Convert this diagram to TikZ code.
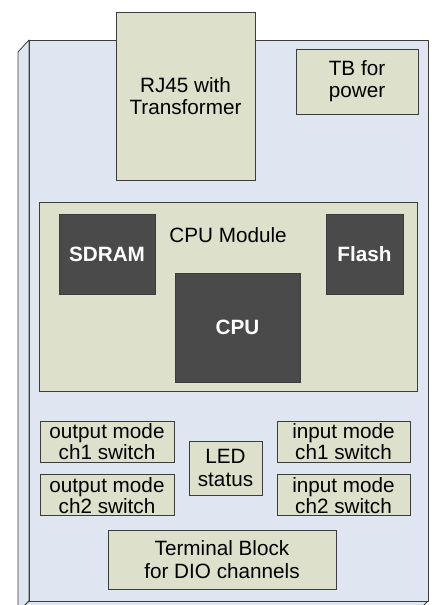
\documentclass[tikz,border=0pt]{standalone}
\usepackage{fontspec}
\setmainfont{Liberation Sans}
\usepackage{tikz}
\usetikzlibrary{positioning}

\definecolor{boardblue}{HTML}{DFE6F1}
\definecolor{partgreen}{HTML}{DDE1CB}
\definecolor{chipgray}{HTML}{4A4A4A}
\definecolor{edgegray}{HTML}{3C3C3C}

\tikzset{
  board/.style={draw=edgegray,fill=boardblue,line width=0.8pt,line join=round},
  part/.style={draw=edgegray,fill=partgreen,line width=0.8pt,align=center,inner sep=0pt,
    font=\fontsize{20.7}{22}\selectfont},
  switchbox/.style={part,minimum width=134pt,minimum height=41pt,
    font=\fontsize{20.7}{20.6}\selectfont},
  chip/.style={draw=edgegray,fill=chipgray,text=white,line width=0.8pt,inner sep=0pt,
    font=\fontsize{20.7}{22}\selectfont\bfseries},
}

\begin{document}
\begin{tikzpicture}[x=1pt,y=-1pt]
\useasboundingbox (0,0) rectangle (431,605);
% the board
\draw[board](18,52) -- (29,40) -- (29,601) -- (18,612) -- cycle;
\draw[board](29,601) -- (428,601) -- (417,612) -- (18,612) -- cycle;
\draw[board](29,40) rectangle (428,601);
% connectors on top
\node[part,minimum width=139pt,minimum height=168pt](rj45) at (185.5,96) {RJ45 with\\Transformer};
\node[part,minimum width=122pt,minimum height=65pt](tbpower) at (357,81.5) {TB for\\power};
% cpu module
\node[part,minimum width=378pt,minimum height=189pt](cpumod) at (228,296.5) {};
\node[anchor=base,font=\fontsize{20.7}{22}\selectfont](cpulabel) at (228,242) {CPU Module};
\node[chip,minimum width=96pt,minimum height=80pt](sdram) at (107,254) {SDRAM};
\node[chip,minimum width=77pt,minimum height=80pt](flash) at (364.5,254) {Flash};
\node[chip,minimum width=125pt,minimum height=109pt](cpu) at (237.5,327.5) {CPU};
% switches and status
\node[switchbox](out1) at (107,441.5) {output mode\\ch1 switch};
\node[switchbox,below=12pt of out1](out2) {output mode\\ch2 switch};
\node[part,minimum width=73pt,minimum height=54pt,font=\fontsize{20.7}{23}\selectfont](led) at (225.5,468) {LED\\status};
\node[switchbox,minimum width=133pt](in1) at (343.5,441.5) {input mode\\ch1 switch};
\node[switchbox,minimum width=133pt,below=12pt of in1](in2) {input mode\\ch2 switch};
% terminal block
\node[part,minimum width=228pt,minimum height=59pt,font=\fontsize{20.7}{23}\selectfont](tblock) at (222,559.5) {Terminal Block\\for DIO channels};
\end{tikzpicture}
\end{document}
